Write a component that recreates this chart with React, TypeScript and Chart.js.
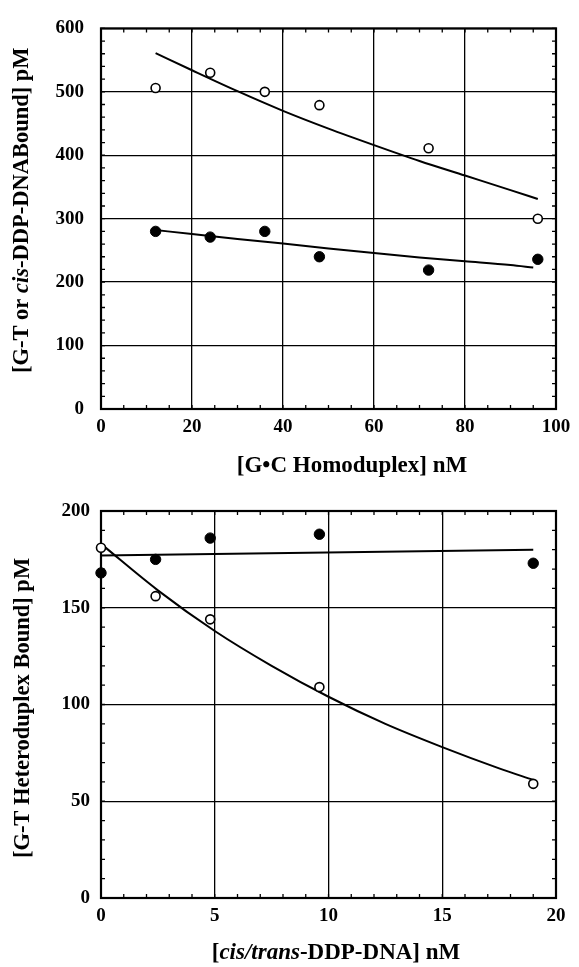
import React, { useEffect, useRef } from "react";
import { Chart, registerables } from "chart.js";
Chart.register(...registerables);

// ---------- Top panel data ----------
const topX = [12, 24, 36, 48, 72, 96];
const topOpenY = [506, 530, 500, 479, 411, 300];
const topFilledY = [280, 271, 280, 240, 219, 236];
const topOpenFitX = [12, 20, 30, 40, 50, 60, 70, 80, 90, 96];
const topOpenFitY = [561, 534, 501, 470, 442, 416, 391, 368, 345, 331];
const topFilledFitX = [12, 20, 30, 40, 50, 60, 70, 80, 90, 95];
const topFilledFitY = [282, 276, 268, 261, 253, 246, 239, 233, 227, 223];

// ---------- Bottom panel data ----------
const botX = [0, 2.4, 4.8, 9.6, 19];
const botOpenY = [181, 156, 144, 109, 59];
const botFilledY = [168, 175, 186, 188, 173];
const botOpenFitX = [0, 2.5, 5, 7.5, 10, 12.5, 15, 17.5, 19];
const botOpenFitY = [183, 159, 138, 120, 104, 90, 78, 67, 61];
const botFilledFitX = [0, 19];
const botFilledFitY = [177, 180];

type Run = { t: string; i?: boolean };
const topXTitle: Run[] = [{ t: "[G•C Homoduplex] nM" }];
const topYTitle: Run[] = [{ t: "[G-T or " }, { t: "cis", i: true }, { t: "-DDP-DNABound] pM" }];
const botXTitle: Run[] = [{ t: "[" }, { t: "cis/trans", i: true }, { t: "-DDP-DNA] nM" }];
const botYTitle: Run[] = [{ t: "[G-T Heteroduplex Bound] pM" }];

const FONT = '"Liberation Serif", "Times New Roman", serif';

const pts = (xs: number[], ys: number[]) => xs.map((x, k) => ({ x, y: ys[k] }));

const framePlugin = {
  id: "frameTicks",
  beforeDatasetsDraw(chart: any, _a: any, opts: any) {
    const { ctx, chartArea: a, scales } = chart;
    const xs = scales.x;
    const ys = scales.y;
    ctx.save();
    ctx.strokeStyle = "#000";
    ctx.lineWidth = 1.3;
    const len = 4;
    for (let v = xs.min; v <= xs.max + 1e-9; v += opts.xStep) {
      const p = xs.getPixelForValue(v);
      ctx.beginPath();
      ctx.moveTo(p, a.bottom);
      ctx.lineTo(p, a.bottom - len);
      ctx.moveTo(p, a.top);
      ctx.lineTo(p, a.top + len);
      ctx.stroke();
    }
    for (let v = ys.min; v <= ys.max + 1e-9; v += opts.yStep) {
      const p = ys.getPixelForValue(v);
      ctx.beginPath();
      ctx.moveTo(a.left, p);
      ctx.lineTo(a.left + len, p);
      ctx.moveTo(a.right, p);
      ctx.lineTo(a.right - len, p);
      ctx.stroke();
    }
    ctx.lineWidth = 2.2;
    ctx.strokeRect(a.left, a.top, a.right - a.left, a.bottom - a.top);
    ctx.restore();
  },
};

const titlesPlugin = {
  id: "richTitles",
  afterDraw(chart: any, _a: any, opts: any) {
    const { ctx, chartArea: a } = chart;
    const draw = (runs: Run[], size: number, cx: number, cy: number, rot: boolean) => {
      ctx.save();
      ctx.translate(cx, cy);
      if (rot) ctx.rotate(-Math.PI / 2);
      ctx.textBaseline = "middle";
      ctx.textAlign = "left";
      ctx.fillStyle = "#000";
      const fonts = runs.map((r) => `${r.i ? "italic " : ""}bold ${size}px ${FONT}`);
      let total = 0;
      const ws = runs.map((r, k) => {
        ctx.font = fonts[k];
        const w = ctx.measureText(r.t).width;
        total += w;
        return w;
      });
      let x = -total / 2;
      runs.forEach((r, k) => {
        ctx.font = fonts[k];
        ctx.fillText(r.t, x, 0);
        x += ws[k];
      });
      ctx.restore();
    };
    draw(opts.x.runs, opts.x.size, (a.left + a.right) / 2 + opts.x.dx, a.bottom + opts.x.dy, false);
    draw(opts.y.runs, opts.y.size, opts.y.x, (a.top + a.bottom) / 2 + opts.y.dy, true);
  },
};

type PanelCfg = {
  height: number;
  padTop: number;
  xAxisH: number;
  xMin: number; xMax: number; xMajor: number; xMinor: number;
  yMin: number; yMax: number; yMajor: number; yMinor: number;
  yLabelPad: number;
  open: { x: number; y: number }[];
  filled: { x: number; y: number }[];
  openFit: { x: number; y: number }[];
  filledFit: { x: number; y: number }[];
  titles: any;
};

function makeConfig(c: PanelCfg): any {
  const tickFont = { family: FONT, size: 19, weight: "bold" as const };
  return {
    type: "scatter",
    data: {
      datasets: [
        {
          data: c.openFit, showLine: true, pointRadius: 0, borderColor: "#000",
          borderWidth: 2, cubicInterpolationMode: "monotone", order: 3, clip: false,
        },
        {
          data: c.filledFit, showLine: true, pointRadius: 0, borderColor: "#000",
          borderWidth: 2, cubicInterpolationMode: "monotone", order: 3, clip: false,
        },
        {
          data: c.open, pointRadius: 4.5, pointBackgroundColor: "#fff", pointBorderColor: "#000",
          pointBorderWidth: 1.6, order: 1, clip: false,
        },
        {
          data: c.filled, pointRadius: 5.2, pointBackgroundColor: "#000", pointBorderColor: "#000",
          pointBorderWidth: 1, order: 1, clip: false,
        },
      ],
    },
    options: {
      responsive: false,
      animation: false,
      events: [],
      layout: { padding: { top: c.padTop, right: 23, bottom: 0, left: 0 } },
      plugins: {
        legend: { display: false },
        tooltip: { enabled: false },
        frameTicks: { xStep: c.xMinor, yStep: c.yMinor },
        richTitles: c.titles,
      },
      scales: {
        x: {
          type: "linear",
          min: c.xMin, max: c.xMax,
          ticks: { stepSize: c.xMajor, color: "#000", font: tickFont, padding: 7, maxRotation: 0 },
          grid: { color: "#000", lineWidth: 1.3, drawTicks: false },
          border: { display: false },
          afterFit: (s: any) => { s.height = c.xAxisH; },
        },
        y: {
          type: "linear",
          min: c.yMin, max: c.yMax,
          ticks: { stepSize: c.yMajor, color: "#000", font: tickFont, padding: c.yLabelPad },
          grid: { color: "#000", lineWidth: 1.3, drawTicks: false },
          border: { display: false },
          afterFit: (s: any) => { s.width = 101; },
        },
      },
    },
    plugins: [framePlugin, titlesPlugin],
  };
}

function Panel({ cfg, top }: { cfg: PanelCfg; top: number }) {
  const ref = useRef<HTMLCanvasElement | null>(null);
  useEffect(() => {
    if (!ref.current) return;
    const chart = new Chart(ref.current, makeConfig(cfg));
    return () => chart.destroy();
  }, []);
  return (
    <canvas
      ref={ref}
      width={579}
      height={cfg.height}
      style={{ position: "absolute", left: 0, top, width: 579, height: cfg.height }}
    />
  );
}

const topCfg: PanelCfg = {
  height: 485,
  padTop: 22,
  xAxisH: 76,
  xMin: 0, xMax: 100, xMajor: 20, xMinor: 5,
  yMin: 0, yMax: 600, yMajor: 100, yMinor: 20,
  yLabelPad: 17,
  open: pts(topX, topOpenY),
  filled: pts(topX, topFilledY),
  openFit: pts(topOpenFitX, topOpenFitY),
  filledFit: pts(topFilledFitX, topFilledFitY),
  titles: {
    x: { runs: topXTitle, size: 23, dx: 23.5, dy: 57 },
    y: { runs: topYTitle, size: 22.5, x: 22, dy: -8.5 },
  },
};

const botCfg: PanelCfg = {
  height: 482,
  padTop: 26,
  xAxisH: 69,
  xMin: 0, xMax: 20, xMajor: 5, xMinor: 1,
  yMin: 0, yMax: 200, yMajor: 50, yMinor: 10,
  yLabelPad: 11,
  open: pts(botX, botOpenY),
  filled: pts(botX, botFilledY),
  openFit: pts(botOpenFitX, botOpenFitY),
  filledFit: pts(botFilledFitX, botFilledFitY),
  titles: {
    x: { runs: botXTitle, size: 23, dx: 7.5, dy: 55 },
    y: { runs: botYTitle, size: 22.5, x: 23, dy: 3.5 },
  },
};

export default function App() {
  return (
    <div style={{ position: "absolute", left: 0, top: 0, width: 579, height: 967, background: "#fff" }}>
      <Panel cfg={topCfg} top={0} />
      <Panel cfg={botCfg} top={485} />
    </div>
  );
}
